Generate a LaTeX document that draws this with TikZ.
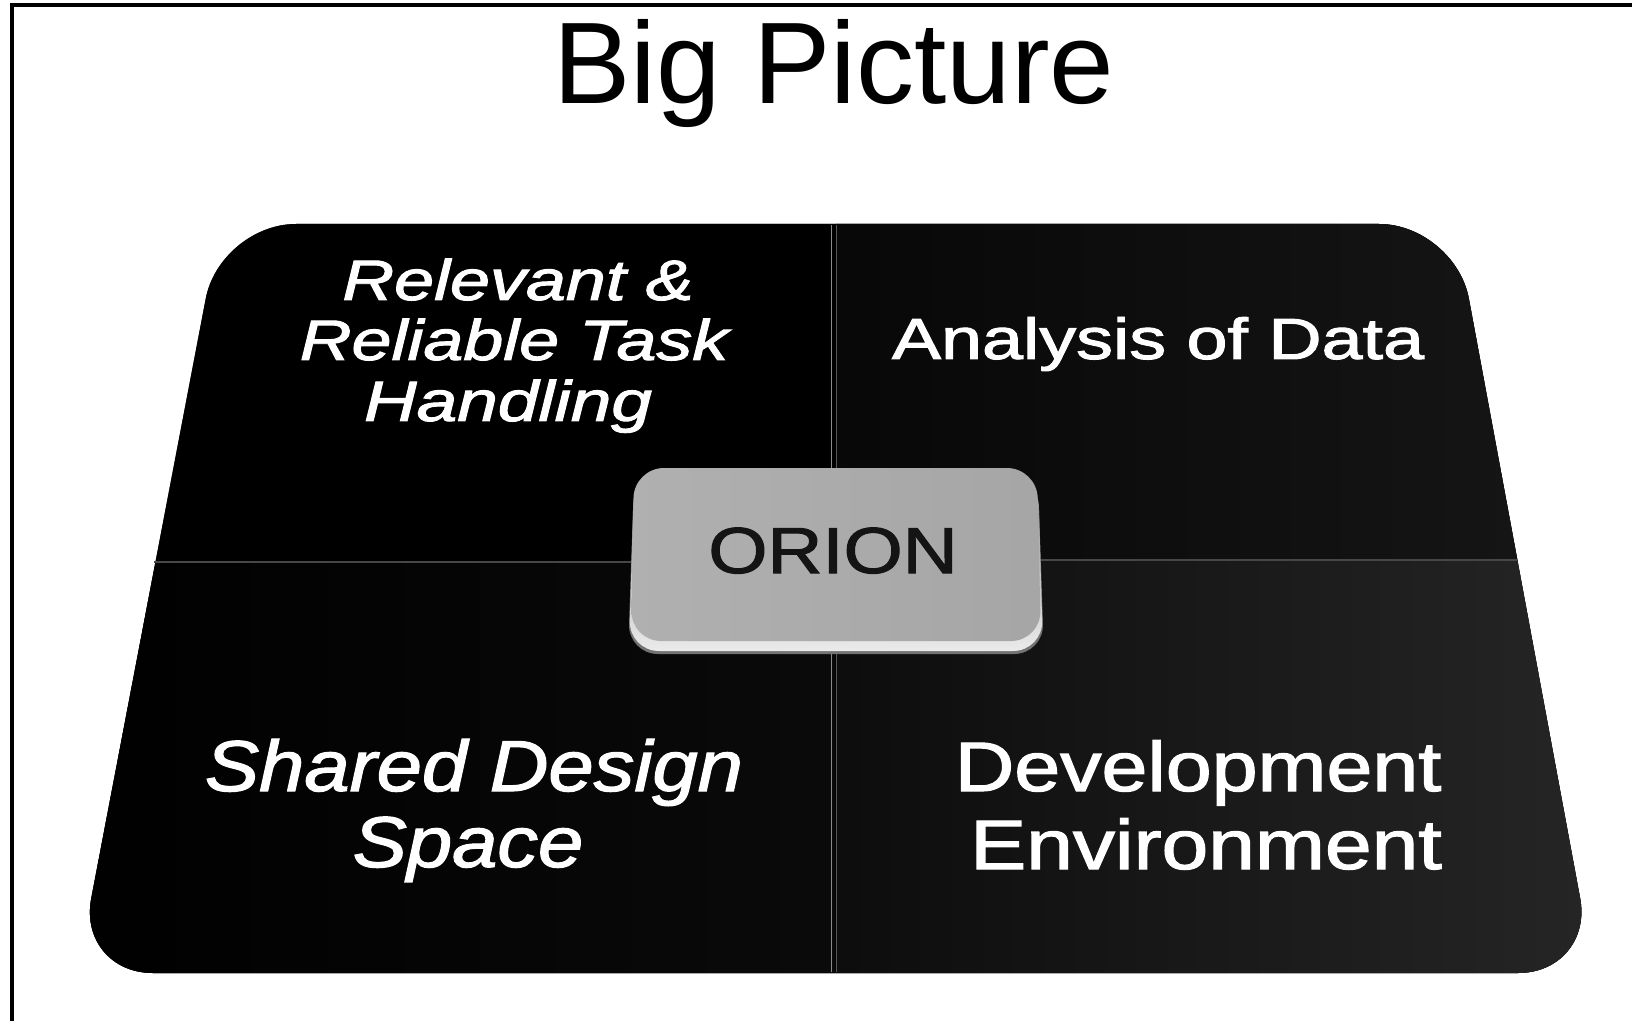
\documentclass[tikz,border=0pt]{standalone}
\usepackage{fontspec}
\setmainfont{Liberation Sans}
\newfontfamily\boldish[FakeBold=1.6]{Liberation Sans}
\tikzset{
  boardtext/.style={anchor=base, inner sep=0pt, text=white},
  toptext/.style={boardtext, font=\boldish\fontsize{28.5}{30}\selectfont},
  bottomtext/.style={boardtext, font=\boldish\fontsize{36}{38}\selectfont},
  divider/.style={line width=0.7pt},
}
\begin{document}
\begin{tikzpicture}[x=0.5pt,y=-0.5pt]
\useasboundingbox (0,0) rectangle (1632,1021);
\fill[white] (0,0) rectangle (1632,1021);
\draw[line width=2pt] (12,5) rectangle (1680,1060);

% title
\node[anchor=base, inner sep=0pt, font=\fontsize{58}{62}\selectfont] (title) at (834,104) {Big Picture};

% board corners
\coordinate (TL) at (220,224);
\coordinate (TR) at (1455,224);
\coordinate (BR) at (1594,973);
\coordinate (BL) at (77,973);

% soft shadow / thickness under the board
\foreach \d/\o in {16/0.06, 13/0.10, 10/0.16, 7/0.28, 4/0.5} {
  \begin{scope}[shift={(0,\d)}]
    \fill[black, opacity=\o, rounded corners=38pt] (TL) -- (TR) -- (BR) -- (BL) -- cycle;
  \end{scope}
}
% board
\fill[black, rounded corners=38pt] (TL) -- (TR) -- (BR) -- (BL) -- cycle;
\begin{scope}
  \clip[rounded corners=38pt] (TL) -- (TR) -- (BR) -- (BL) -- cycle;
  \shade[left color=black!97, right color=black!91] (836,200) rectangle (1620,561);
  \shade[left color=black!95, right color=black!85] (836,561) rectangle (1620,1000);
  \shade[left color=black, right color=black!96] (60,562) rectangle (835,1000);
\end{scope}

% dividers
\coordinate (vtop) at (834,225);
\coordinate (vbot) at (834,972);
\coordinate (hl) at (154,562);
\coordinate (hm) at (835,562);
\coordinate (hr) at (1517,560);
\draw[divider, black!45] ([xshift=-1.2pt]vtop) -- ([xshift=-1.2pt]vbot);
\draw[divider, black!65] ([xshift=1.2pt]vtop) -- ([xshift=1.2pt]vbot);
\draw[divider, black!72] (hl) -- (hm);
\draw[divider, black!72] (hm |- hr) -- (hr);

% ORION key
\fill[black!55, rounded corners=15pt] (634,480) -- (1038,480) -- (1044,654) -- (628,654) -- cycle;
\shade[top color=black!45, bottom color=black!8, rounded corners=15pt] (634,476) -- (1038,476) -- (1043,651) -- (629,651) -- cycle;
\shade[left color=black!31, right color=black!35, rounded corners=15pt] (634,468) -- (1037,468) -- (1041,641) -- (631,641) -- cycle;
\node[anchor=base, inner sep=0pt, text=black!92, font=\boldish\fontsize{32.5}{34}\selectfont] (orion) at (833,573) {\scalebox{1.17}[1]{ORION}};

% quadrant texts
\node[toptext] (tl1) at (518,300) {\scalebox{1.26}[1]{\itshape Relevant \&}};
\node[toptext] (tl2) at (514,360) {\scalebox{1.26}[1]{\itshape Reliable Task}};
\node[toptext] (tl3) at (508,421) {\scalebox{1.28}[1]{\itshape Handling}};
\node[toptext, font=\boldish\fontsize{29}{30}\selectfont] (tr1) at (1158,359) {\scalebox{1.27}[1]{Analysis of Data}};
\node[bottomtext] (bl1) at (474,791) {\scalebox{1.13}[1]{\itshape Shared Design}};
\node[bottomtext] (bl2) at (468,867) {\scalebox{1.13}[1]{\itshape Space}};
\node[bottomtext, font=\boldish\fontsize{35}{37}\selectfont] (br1) at (1198,791) {\scalebox{1.18}[1]{Development}};
\node[bottomtext, font=\boldish\fontsize{35}{37}\selectfont] (br2) at (1206,869) {\scalebox{1.2}[1]{Environment}};
\end{tikzpicture}
\end{document}
